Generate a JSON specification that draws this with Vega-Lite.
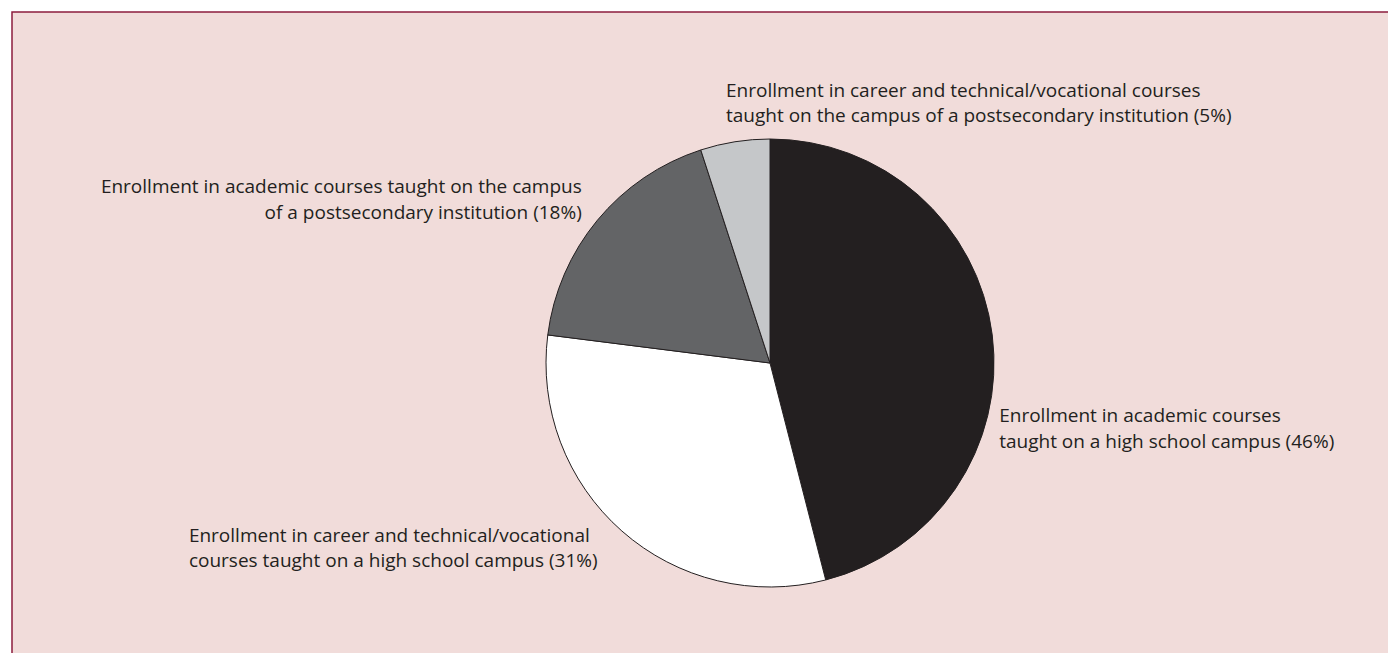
{
  "$schema": "https://vega.github.io/schema/vega-lite/v6.json",
  "width": 1516,
  "height": 702,
  "autosize": {"type": "none"},
  "padding": {"left": 12, "top": 12, "right": -140, "bottom": -61},
  "background": "#ffffff",
  "view": {"fill": "#f1dcda", "stroke": "#8c1c3e", "strokeWidth": 1.5},
  "data": {
    "values": [
      {"category": "Academic courses, high school campus", "value": 46, "label": "Enrollment in academic courses\ntaught on a high school campus (46%)"},
      {"category": "Career and technical/vocational courses, high school campus", "value": 31, "label": "Enrollment in career and technical/vocational\ncourses taught on a high school campus (31%)"},
      {"category": "Academic courses, postsecondary campus", "value": 18, "label": "Enrollment in academic courses taught on the campus\nof a postsecondary institution (18%)"},
      {"category": "Career and technical/vocational courses, postsecondary campus", "value": 5, "label": "Enrollment in career and technical/vocational courses\ntaught on the campus of a postsecondary institution (5%)"}
    ]
  },
  "encoding": {
    "theta": {"field": "value", "type": "quantitative", "stack": true},
    "order": {"field": "value", "type": "quantitative", "sort": "descending"}
  },
  "layer": [
    {
      "mark": {"type": "arc", "outerRadius": 224, "stroke": "#231f20", "strokeWidth": 1},
      "encoding": {
        "color": {
          "field": "category",
          "type": "nominal",
          "scale": {
            "domain": [
              "Academic courses, high school campus",
              "Career and technical/vocational courses, high school campus",
              "Academic courses, postsecondary campus",
              "Career and technical/vocational courses, postsecondary campus"
            ],
            "range": ["#231f20", "#ffffff", "#636466", "#c5c7c9"]
          },
          "legend": null
        }
      }
    },
    {
      "mark": {"type": "text", "radius": 230, "align": "left", "baseline": "alphabetic", "dx": 1, "dy": 88, "font": "Open Sans", "fontSize": 19, "lineHeight": 25.5, "lineBreak": "\n", "color": "#231f20"},
      "encoding": {"text": {"condition": {"test": "datum.value == 46", "field": "label"}, "value": ""}}
    },
    {
      "mark": {"type": "text", "radius": 230, "align": "left", "baseline": "alphabetic", "dx": -429, "dy": 6, "font": "Open Sans", "fontSize": 19, "lineHeight": 25.5, "lineBreak": "\n", "color": "#231f20"},
      "encoding": {"text": {"condition": {"test": "datum.value == 31", "field": "label"}, "value": ""}}
    },
    {
      "mark": {"type": "text", "radius": 230, "align": "right", "baseline": "alphabetic", "dx": -11, "dy": -23, "font": "Open Sans", "fontSize": 19, "lineHeight": 25.5, "lineBreak": "\n", "color": "#231f20"},
      "encoding": {"text": {"condition": {"test": "datum.value == 18", "field": "label"}, "value": ""}}
    },
    {
      "mark": {"type": "text", "radius": 230, "align": "left", "baseline": "alphabetic", "dx": -8, "dy": -39, "font": "Open Sans", "fontSize": 19, "lineHeight": 25.5, "lineBreak": "\n", "color": "#231f20"},
      "encoding": {"text": {"condition": {"test": "datum.value == 5", "field": "label"}, "value": ""}}
    }
  ]
}
